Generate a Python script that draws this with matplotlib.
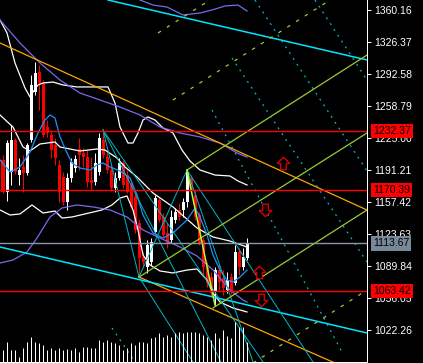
import matplotlib
matplotlib.use('Agg')
import matplotlib.pyplot as plt
from matplotlib.path import Path
from matplotlib.transforms import blended_transform_factory

plt.rcParams['font.family'] = ['Liberation Sans', 'DejaVu Sans']
plt.rcParams['lines.scale_dashes'] = False

# candles, one per bar (bar index 0..61)
opens = [1201.8, 1168.0, 1189.1, 1222.9, 1185.9, 1194.4, 1188.0, 1222.9, 1273.6, 1294.7,
         1283.1, 1236.6, 1228.2, 1217.6, 1196.5, 1183.8, 1157.4, 1182.8, 1193.3, 1213.4,
         1209.2, 1205.0, 1180.7, 1178.6, 1189.1, 1222.9, 1205.0, 1191.2, 1172.2, 1182.8,
         1198.6, 1185.9, 1175.4, 1162.7, 1135.3, 1099.4, 1088.8, 1094.1, 1125.8, 1159.5,
         1141.6, 1124.7, 1117.3, 1138.4, 1149.0, 1149.0, 1157.4, 1182.8, 1164.8, 1143.7,
         1117.3, 1088.8, 1078.2, 1062.4, 1085.6, 1077.2, 1064.5, 1078.2, 1071.9, 1104.6,
         1088.8, 1098.3]
highs = [1207.1, 1222.9, 1238.7, 1225.0, 1203.9, 1207.1, 1219.7, 1291.5, 1305.2, 1302.1,
         1286.2, 1244.0, 1233.5, 1225.0, 1201.8, 1189.1, 1188.0, 1203.9, 1207.1, 1225.0,
         1214.4, 1212.3, 1205.0, 1209.2, 1230.3, 1233.5, 1212.3, 1196.5, 1189.1, 1203.9,
         1201.8, 1191.2, 1180.7, 1166.9, 1138.4, 1104.6, 1117.3, 1119.4, 1164.8, 1161.6,
         1145.8, 1135.3, 1149.0, 1151.1, 1156.4, 1161.6, 1191.2, 1185.9, 1170.1, 1146.9,
         1120.5, 1094.1, 1083.5, 1088.8, 1090.9, 1085.6, 1083.5, 1082.5, 1112.0, 1108.9,
         1108.9, 1119.4]
lows = [1167.0, 1158.5, 1175.4, 1187.0, 1175.4, 1168.0, 1185.9, 1220.8, 1270.4, 1254.6,
        1226.1, 1226.1, 1203.9, 1196.5, 1157.4, 1154.3, 1149.0, 1178.6, 1189.1, 1191.2,
        1194.4, 1173.3, 1170.1, 1175.4, 1185.9, 1203.9, 1188.0, 1170.1, 1168.0, 1180.7,
        1172.2, 1167.0, 1151.1, 1124.7, 1078.5, 1088.8, 1082.5, 1090.9, 1124.7, 1136.3,
        1120.5, 1108.9, 1114.1, 1135.3, 1138.4, 1141.6, 1152.2, 1167.0, 1138.4, 1112.0,
        1078.2, 1067.7, 1057.1, 1049.0, 1064.5, 1059.2, 1061.3, 1060.3, 1069.8, 1080.4,
        1085.6, 1096.2]
closes = [1168.0, 1219.7, 1222.9, 1189.1, 1191.2, 1188.0, 1217.6, 1281.0, 1293.6, 1283.1,
          1228.2, 1230.3, 1212.3, 1203.9, 1168.0, 1157.4, 1182.8, 1199.7, 1202.8, 1207.1,
          1205.0, 1178.6, 1177.5, 1198.6, 1225.0, 1207.1, 1191.2, 1172.2, 1182.8, 1198.6,
          1175.4, 1168.0, 1152.2, 1127.9, 1098.3, 1094.1, 1112.0, 1115.2, 1161.6, 1138.4,
          1122.6, 1114.1, 1141.6, 1146.9, 1141.6, 1157.4, 1189.1, 1170.1, 1141.6, 1114.1,
          1088.8, 1071.9, 1061.3, 1085.6, 1072.9, 1066.6, 1075.1, 1062.4, 1104.6, 1088.8,
          1099.4, 1113.67]
volumes = [1200, 2000, 1200, 1200, 500, 1400, 2000, 2500, 2000, 1900,
           1700, 1200, 1400, 1200, 1400, 1200, 1300, 1200, 1400, 1000,
           1500, 1500, 1400, 1400, 2200, 2000, 2200, 2000, 1900, 1700,
           1200, 1400, 1900, 1700, 2000, 2000, 1900, 2400, 2500, 2900,
           2500, 2700, 2500, 2900, 3000, 2900, 3000, 3000, 3000, 2900,
           2700, 2500, 2200, 2900, 2400, 3200, 2600, 2400, 4000, 3500,
           3500, 2000]

# short bollinger bands (white)
bb_up_x = [-0.75, 1, 3, 5.5, 6.75, 7.5, 8.75, 10, 12.5, 15, 18.5, 23.5, 26.25, 28, 29.25,
           31.25, 32.5, 33.75, 35, 36.25, 38, 40, 42.5, 44.75, 46.75, 49.25, 53, 56.75, 58.75, 61]
bb_up_y = [1349.6, 1335.9, 1304.2, 1277.8, 1268.3, 1273.6, 1281.0, 1283.1, 1284.1, 1281.0,
           1278.9, 1278.9, 1278.9, 1262.0, 1236.6, 1219.7, 1219.7, 1230.3, 1244.0, 1247.2,
           1244.0, 1235.6, 1230.3, 1212.3, 1200.7, 1191.2, 1185.9, 1184.9, 1179.6, 1175.4]
bb_mid_x = [-0.75, 2.5, 5, 6.75, 9.25, 13, 14.25, 19.25, 23.5, 25.5, 28.5, 30.5, 33.5, 37.5,
            42.5, 48.5, 52.5, 56.75, 61]
bb_mid_y = [1249.3, 1236.6, 1215.5, 1211.3, 1218.7, 1220.8, 1215.5, 1211.3, 1213.4, 1212.3,
            1203.9, 1194.4, 1183.8, 1166.9, 1152.2, 1130.0, 1120.5, 1116.2, 1109.9]
bb_low_x = [-0.75, 1.75, 4.25, 7.25, 10, 13, 14.75, 17.25, 20.5, 24.75, 27.25, 29.25, 31,
            32.5, 33.75, 35, 36.75, 39.25, 42.5, 46, 48.5, 51, 52.5, 54.25, 57.5, 61]
bb_low_y = [1149.0, 1143.7, 1144.8, 1154.3, 1145.8, 1147.9, 1140.5, 1141.6, 1144.8, 1149.0,
            1154.3, 1161.6, 1163.8, 1149.0, 1127.9, 1101.5, 1090.9, 1084.6, 1082.5, 1085.6,
            1086.7, 1075.1, 1061.3, 1051.8, 1045.5, 1041.3]

# moving average (blue)
ma_x = [-0.75, 1.75, 4.25, 6.75, 8.75, 10.5, 11.75, 13, 14.25, 16, 17.25, 19.25, 21.75, 23.5,
        25, 26.75, 29.25, 31.75, 33.5, 35, 37.5, 40, 42.5, 46, 48, 49.25, 51, 52.5, 54.25,
        56, 57.5, 59.25, 61]
ma_y = [1201.8, 1189.1, 1194.4, 1210.2, 1230.3, 1244.0, 1249.3, 1246.1, 1226.1, 1209.2,
        1198.6, 1193.3, 1191.2, 1196.5, 1198.6, 1194.4, 1190.2, 1182.8, 1164.8, 1143.7,
        1124.7, 1119.4, 1124.7, 1138.4, 1151.1, 1141.6, 1122.6, 1101.5, 1085.6, 1075.1,
        1073.0, 1078.2, 1085.6]

# long bands (slate blue)
lb_up_x = [-0.75, 4.25, 9.25, 14.25, 19.25, 24.25, 29.25, 34.25, 39.25, 44.25, 49.25, 54.25, 58.5, 61]
lb_up_y = [1349.6, 1325.3, 1304.2, 1286.2, 1272.5, 1265.1, 1257.7, 1249.3, 1236.6, 1230.3,
           1226.1, 1219.7, 1209.2, 1204.9]
lb_top_x = [31.75, 34.25, 37.5, 41, 45, 49.25, 52.25, 55.5, 58.75, 61]
lb_top_y = [1376.0, 1370.7, 1365.4, 1363.3, 1354.9, 1357.0, 1360.2, 1364.4, 1365.4, 1359.1]
lb_low_x = [-0.75, 2.5, 6, 8.5, 11.75, 14.75, 18.5, 22.5, 26.75, 31, 35, 39.25, 44.25, 48.5,
            52.5, 56.75, 60, 61]
lb_low_y = [1093.0, 1096.2, 1104.6, 1119.4, 1141.6, 1151.1, 1154.3, 1152.2, 1149.0, 1141.6,
            1127.9, 1119.4, 1109.9, 1100.4, 1085.6, 1064.5, 1053.9, 1051.8]

# drawn objects: (bar0, price0, bar1, price1)
orange_lines = [(-0.75, 1325.3, 91, 1149.0), (34, 1078.2, 91, 972.6)]
cyan_channel = [(26.25, 1370.7, 91, 1307.4), (-0.75, 1109.9, 91, 1019.1)]
fan_lines = [(25, 1233.5, 34, 1078.2), (34, 1078.2, 47.5, 988.5), (25, 1233.5, 65, 988.5),
             (25, 1233.5, 54.5, 988.5), (34, 1078.2, 46, 1191.2), (46, 1191.2, 77.5, 988.5),
             (46, 1191.2, 62.5, 988.5)]
green_lines = [(34, 1078.2, 91, 1230.3), (46, 1191.2, 91, 1312.6), (52.5, 1045.5, 91, 1149.0)]
green_steep = [(46, 1191.2, 53, 1048.7)]
green_dashed = [(62.5, 987.4, 91, 1064.5), (42.5, 1265.1, 81.75, 1370.7), (38.75, 1335.9, 51.75, 1370.7)]
cyan_dotted = [(63, 1370.7, 91, 1190.2), (78, 1370.7, 91, 1286.2), (57.25, 1309.5, 91, 1094.1),
               (52.25, 1254.6, 84.75, 999.0), (27.25, 1024.4, 33, 988.5)]

red_levels = [1232.37, 1170.39, 1063.42]
last_price = 1113.67
up_arrows = [(70, 1198.6), (64, 1083.9)]
down_arrows = [(65.5, 1149.0), (64.5, 1053.9)]
tick_vals = [1360.16, 1326.37, 1292.58, 1258.79, 1225.00, 1191.21, 1157.42, 1123.63, 1089.84, 1056.05, 1022.26]

W, H = 423, 363
fig = plt.figure(figsize=(W / 100, H / 100), dpi=100, facecolor='black')
rect = [0, 1 / H, 367 / W, 362 / H]
ax = fig.add_axes(rect, facecolor='black')
ax.set_xlim(-0.75, 91)
ax.set_ylim(988.48, 1370.72)
px = 0.72

# candles
for i in range(len(opens)):
    o, h, l, c = opens[i], highs[i], lows[i], closes[i]
    col = 'white' if c >= o else '#ff0000'
    ax.vlines(i, l, h, color=col, lw=px, zorder=2)
    ax.bar(i, max(abs(c - o), 0.8), bottom=min(o, c), width=0.75, color=col, zorder=2,
           linewidth=0, antialiased=False)

# indicators
for xs, ys, col in [(bb_up_x, bb_up_y, 'white'), (bb_mid_x, bb_mid_y, 'white'),
                    (bb_low_x, bb_low_y, 'white'), (ma_x, ma_y, '#1e90ff'),
                    (lb_up_x, lb_up_y, '#7b68ee'), (lb_top_x, lb_top_y, '#7b68ee'),
                    (lb_low_x, lb_low_y, '#7b68ee')]:
    ax.plot(xs, ys, color=col, lw=0.9, zorder=3)

def seg(lines, **kw):
    for x0, y0, x1, y1 in lines:
        ax.plot([x0, x1], [y0, y1], zorder=4, **kw)

seg(orange_lines, color='#ffa500', lw=0.9)
seg(cyan_channel, color='#00e5ff', lw=1.1)
seg(fan_lines, color='#00b8c8', lw=0.7)
seg(green_lines, color='#9acd32', lw=0.9)
seg(green_steep, color='#adff2f', lw=1.1)
seg(green_dashed, color='#9acd32', lw=0.9, dashes=(2.5, 5))
seg(cyan_dotted, color='#00b8c8', lw=0.9, dashes=(1.4, 3.6))

for v in red_levels:
    ax.axhline(v, color='#ff0000', lw=1.0, zorder=5)
ax.axhline(last_price, color='#8a96a6', lw=1.0, zorder=5)

# hollow arrow markers
up_shape = Path([(-1, 0), (0, 1), (1, 0), (0.45, 0), (0.45, -1), (-0.45, -1), (-0.45, 0), (-1, 0)],
                [Path.MOVETO] + [Path.LINETO] * 6 + [Path.CLOSEPOLY])
down_shape = Path([(x, -y) for x, y in up_shape.vertices], up_shape.codes)
ax.plot([p[0] for p in up_arrows], [p[1] for p in up_arrows], ls='none', marker=up_shape,
        ms=9, mfc='black', mec='#d00000', mew=1.0, zorder=6)
ax.plot([p[0] for p in down_arrows], [p[1] for p in down_arrows], ls='none', marker=down_shape,
        ms=9, mfc='black', mec='#d00000', mew=1.0, zorder=6)

# price scale
ax.yaxis.tick_right()
ax.set_yticks(tick_vals)
ax.set_yticklabels(['%.2f' % v for v in tick_vals])
ax.set_xticks([])
ax.tick_params(axis='y', colors='white', length=3, width=px, pad=2, labelsize=7.5)
for s in ['top', 'left']:
    ax.spines[s].set_visible(False)
for s in ['right', 'bottom']:
    ax.spines[s].set_color('white')
    ax.spines[s].set_linewidth(px)

tr = blended_transform_factory(ax.transAxes, ax.transData)
for v, fc in [(1232.37, '#ff0000'), (1170.39, '#ff0000'), (1063.42, '#ff0000'), (last_price, '#778899')]:
    ax.text(1 + 6 / 367, v, '%.2f' % v, transform=tr, ha='left', va='center', fontsize=7.5,
            color='black', clip_on=False, zorder=10,
            bbox=dict(boxstyle='square,pad=0.2', fc=fc, ec='none'))

# volumes along the bottom
axv = fig.add_axes(rect)
axv.set_xlim(-0.75, 91)
axv.set_ylim(0, 36200)
axv.vlines(range(len(volumes)), 0, volumes, color='white', lw=px)
axv.axis('off')

fig.savefig('out.png', dpi=100, facecolor='black')
